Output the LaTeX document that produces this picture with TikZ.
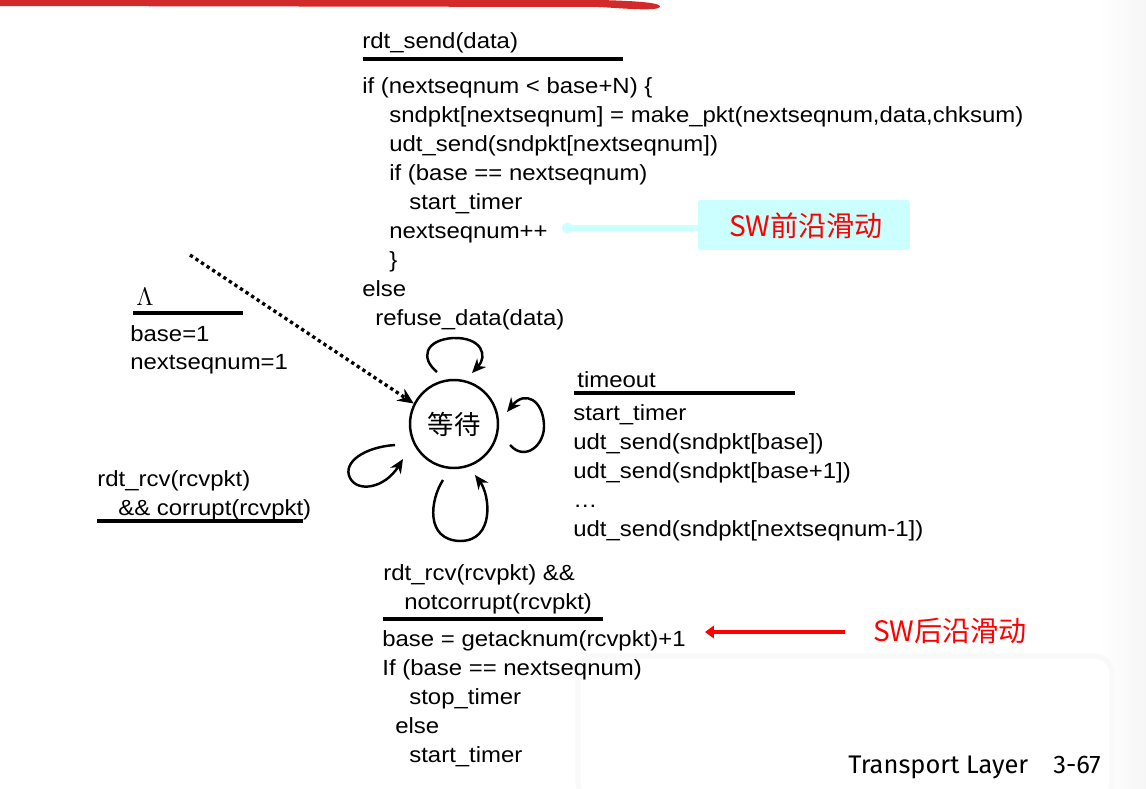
\documentclass[tikz,border=0pt]{standalone}
\usepackage{fontspec}
\setmainfont[FakeStretch=1.09]{Liberation Sans}
\newfontfamily\cjk{Noto Sans CJK SC}
\newfontfamily\tlfont{Fira Sans}
\usetikzlibrary{arrows.meta}
\definecolor{slred}{RGB}{210,42,42}
\definecolor{swcyan}{RGB}{204,255,255}
\definecolor{swred}{RGB}{255,0,0}
\begin{document}
\begin{tikzpicture}[x=0.02cm,y=-0.02cm,
  code/.style={anchor=base west,inner sep=0pt,font=\fontsize{12.5}{16.4}\selectfont},
  rulel/.style={line width=2.3pt},
  selfloop/.style={line width=1.4pt,-{Stealth[length=8pt,width=7pt]}},
  note/.style={font=\cjk\fontsize{16}{18}\selectfont,text=swred,inner sep=0pt}]
\useasboundingbox (0,0) rectangle (1146,788);
% right edge shading
\shade[left color=white,right color=gray!7] (1100,0) rectangle (1146,788);
% top red brush line
\fill[slred] (0,-1) -- (600,0) .. controls (640,1) and (662,3) .. (660,7)
  .. controls (657,11) and (630,9) .. (600,7) -- (0,6) -- cycle;
% white box bottom right
\draw[draw=gray!5,line width=3pt,fill=white,rounded corners=10pt] (578,656) rectangle (1112,800);
% rdt_send block
\node[code] (rs) at (362,48) {rdt\_send(data)};
\draw[rulel] (363,59) -- (623,59);
\node[code] (c1) at (362,93) {if (nextseqnum < base+N) \{};
\node[code] (c2) at (389,122) {sndpkt[nextseqnum] = make\_pkt(nextseqnum,data,chksum)};
\node[code] (c3) at (389,151) {udt\_send(sndpkt[nextseqnum])};
\node[code] (c4) at (389,180) {if (base == nextseqnum)};
\node[code] (c5) at (409,209) {start\_timer};
\node[code] (c6) at (389,238) {nextseqnum++};
\node[code] (c7) at (389,267) {\}};
\node[code] (c8) at (362,296) {else};
\node[code] (c9) at (375,325) {refuse\_data(data)};
% cyan note
\node[fill=swcyan,minimum width=4.24cm,minimum height=1cm,inner sep=0pt,rounded corners=1pt] (nf) at (804,225) {};
\node[note] (nft) at (806,226) {SW前沿滑动};
\coordinate (cyend) at (562,228);
\draw[swcyan,line width=3.4pt,line cap=round,-{Circle[length=6pt,width=6pt]}] (nf.west |- cyend) -- (cyend);
% init block
\node[anchor=base,inner sep=0pt,font=\fontsize{14}{16}\selectfont] (lam) at (145,305) {$\Lambda$};
\draw[rulel] (133,313) -- (243,313);
\node[code] (i1) at (130,341) {base=1};
\node[code] (i2) at (130,369) {nextseqnum=1};
% state
\node[draw,circle,line width=1.4pt,minimum size=1.76cm,inner sep=0pt,font=\cjk\fontsize{15}{17}\selectfont] (st) at (454,424) {等待};
\coordinate (init) at (190,255);
\draw[line width=1.9pt,dash pattern=on 1.9pt off 1.9pt,-{Stealth[length=9pt,width=8pt]}] (init) -- (st.153);
% loops
\draw[selfloop] (437,372) .. controls (420,358) and (425,340) .. (453,338) .. controls (482,337) and (488,356) .. (472,373);
\draw[selfloop] (510,445) .. controls (525,462) and (545,445) .. (544,425) .. controls (543,400) and (525,390) .. (507,412);
\draw[selfloop] (395,445) .. controls (365,447) and (342,462) .. (350,478) .. controls (358,493) and (385,488) .. (403,459);
\draw[selfloop] (443,480) .. controls (430,500) and (425,540) .. (460,541) .. controls (495,541) and (490,495) .. (475,475);
% timeout block
\node[code] (t0) at (577,387) {timeout};
\draw[rulel] (574,393) -- (795,393);
\node[code] (t1) at (573,420) {start\_timer};
\node[code] (t2) at (573,449) {udt\_send(sndpkt[base])};
\node[code] (t3) at (573,478) {udt\_send(sndpkt[base+1])};
\node[code] (t4) at (573,507) {…};
\node[code] (t5) at (573,536) {udt\_send(sndpkt[nextseqnum-1])};
% corrupt block
\node[code] (r1) at (97,486) {rdt\_rcv(rcvpkt)};
\node[code] (r2) at (118,515) {\&\& corrupt(rcvpkt)};
\draw[rulel] (97,521) -- (303,521);
% notcorrupt block
\node[code] (n1) at (383,580) {rdt\_rcv(rcvpkt) \&\&};
\node[code] (n2) at (404,609) {notcorrupt(rcvpkt)};
\draw[rulel] (383,619) -- (603,619);
\node[code] (n3) at (382,646) {base = getacknum(rcvpkt)+1};
\node[code] (n4) at (382,675) {If (base == nextseqnum)};
\node[code] (n5) at (409,704) {stop\_timer};
\node[code] (n6) at (395,733) {else};
\node[code] (n7) at (409,762) {start\_timer};
% red note
\node[note] (nb) at (950,631) {SW后沿滑动};
\coordinate (rdend) at (705,632);
\draw[swred,line width=2.3pt,-{Triangle[length=5pt,width=7pt]}] (845,632) -- (rdend);
% footer
\node[anchor=base west,inner sep=0pt,font=\tlfont\fontsize{14.5}{16}\selectfont] (tl) at (848,773) {Transport Layer};
\node[anchor=base east,inner sep=0pt,font=\tlfont\fontsize{14.5}{16}\selectfont] (pg) at (1101,773) {3-67};
\end{tikzpicture}
\end{document}
